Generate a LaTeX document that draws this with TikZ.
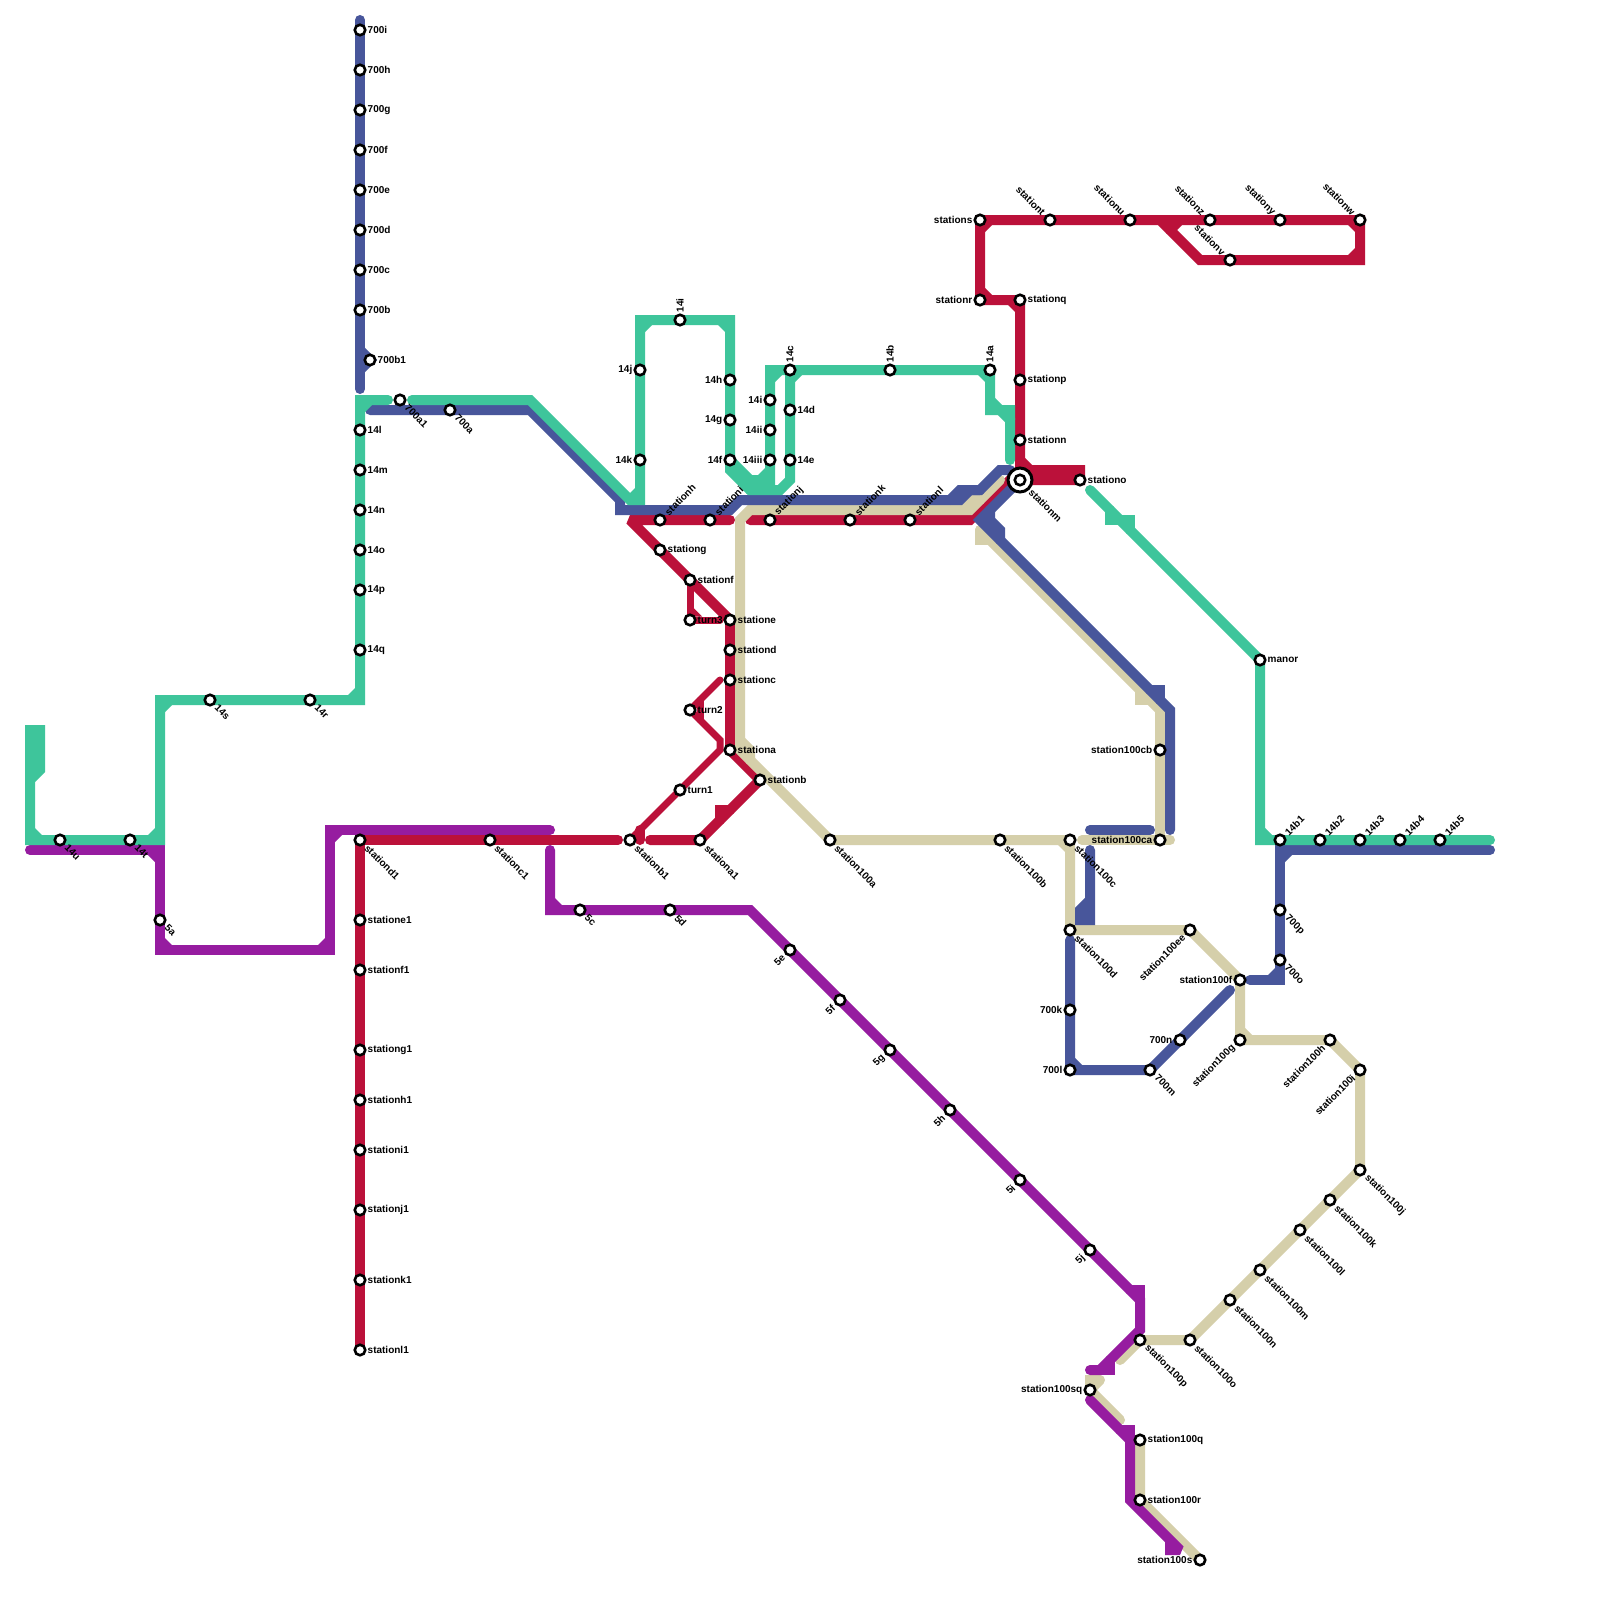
\documentclass[tikz,border=0pt]{standalone}
\usepackage{fontspec}
\setmainfont{Liberation Sans}
\usepackage{xcolor}
\usetikzlibrary{backgrounds}
\definecolor{LineGreen}{RGB}{62,197,155}
\definecolor{LineBlue}{RGB}{72,86,155}
\definecolor{LineRed}{RGB}{187,17,58}
\definecolor{LinePurple}{RGB}{150,28,160}
\definecolor{LineBeige}{RGB}{213,207,170}
\tikzset{
	metro/.style={line width=10pt, line cap=round, line join=miter, miter limit=2},
	thinmetro/.style={metro, line width=7pt},
	station/.style={circle, draw=black, fill=white, line width=2.6pt, inner sep=0pt, minimum size=10.5pt},
	hub/.style={circle, draw=black, fill=white, line width=3pt, inner sep=0pt, minimum size=24pt},
	lbl/.style={inner sep=0pt, font=\fontsize{10pt}{12pt}\selectfont\bfseries},
	lblE/.style={lbl, anchor=west, xshift=7.5pt},
	lblW/.style={lbl, anchor=east, xshift=-7.5pt},
	lblN/.style={lbl, rotate=90, anchor=west, xshift=7.5pt},
	lblSE/.style={lbl, rotate=-45, anchor=west, xshift=9pt},
	lblNE/.style={lbl, rotate=45, anchor=west, xshift=9pt},
	lblSW/.style={lbl, rotate=45, anchor=east, xshift=-9pt},
	lblNW/.style={lbl, rotate=-45, anchor=east, xshift=-9pt}
}
% one look for a whole list of stations
\newcommand{\stationlist}[2]{%
	\foreach \n/\x/\y in {#2} {
		\node[station] (\n) at (\x,\y) {};
		\node[#1] (\n-text) at (\n.center) {\n};
	}
}
% small cut on the inside of a square corner
\newcommand{\elbows}[2]{%
	\foreach \cx/\cy/\dx/\dy in {#2} {
		\fill[#1] ({\cx+0.5*\dx},{\cy+0.5*\dy}) -- ++({0.7*\dx},0) -- ++({-0.7*\dx},{0.7*\dy}) -- cycle;
	}
}
\begin{document}
\begin{tikzpicture}[x=10pt, y=-10pt]
	\useasboundingbox (0,0) rectangle (160,160);

	% stations
	\stationlist{lblE}{700i/36/3, 700h/36/7, 700g/36/11, 700f/36/15, 700e/36/19, 700d/36/23, 700c/36/27, 700b/36/31, 700b1/37/36,
		14l/36/43, 14m/36/47, 14n/36/51, 14o/36/55, 14p/36/59, 14q/36/65, 14d/79/41, 14e/79/46,
		statione1/36/92, stationf1/36/97, stationg1/36/105, stationh1/36/110, stationi1/36/115, stationj1/36/121, stationk1/36/128, stationl1/36/135,
		stationg/66/55, stationf/69/58, turn3/69/62, statione/73/62, stationd/73/65, stationc/73/68, turn2/69/71, stationa/73/75, stationb/76/78, turn1/68/79,
		stationq/102/30, stationp/102/38, stationn/102/44, stationo/108/48,
		station100q/114/144, station100r/114/150, manor/126/66}
	\stationlist{lblW}{14j/64/37, 14k/64/46, 14h/73/38, 14g/73/42, 14f/73/46, 14i/77/40, 14ii/77/43, 14iii/77/46,
		stations/98/22, stationr/98/30, station100cb/116/75, station100ca/116/84, 700k/107/101, 700l/107/107, 700n/118/104,
		station100f/124/98, station100sq/109/139, station100s/120/156}
	\stationlist{lblN}{14c/79/37, 14b/89/37, 14a/99/37}
	\stationlist{lblNE}{stationh/66/52, stationi/71/52, stationj/77/52, stationk/85/52, stationl/91/52,
		14b1/128/84, 14b2/132/84, 14b3/136/84, 14b4/140/84, 14b5/144/84}
	\stationlist{lblSE}{14u/6/84, 14t/13/84, 14s/21/70, 14r/31/70, 5a/16/92, 5c/58/91, 5d/67/91, 700a1/40/40, 700a/45/41,
		stationd1/36/84, stationc1/49/84, stationb1/63/84, stationa1/70/84,
		station100a/83/84, station100b/100/84, station100c/107/84, station100d/107/93, 700m/115/107, 700p/128/91, 700o/128/96,
		station100j/136/117, station100k/133/120, station100l/130/123, station100m/126/127, station100n/123/130, station100o/119/134, station100p/114/134}
	\stationlist{lblSW}{5e/79/95, 5f/84/100, 5g/89/105, 5h/95/111, 5i/102/118, 5j/109/125,
		station100ee/119/93, station100g/124/104, station100h/133/104, station100i/136/107}
	\stationlist{lblNW}{stationt/105/22, stationu/113/22, stationz/121/22, stationy/128/22, stationw/136/22, stationv/123/26}

	\node[station] (14itop) at (68,32) {};
	\node[lblN] (14itop-text) at (14itop.center) {14i};
	\node[hub] (stationm) at (102,48) {};
	\node[station] (stationm-core) at (stationm.center) {};
	\node[lbl, rotate=-45, anchor=west, xshift=15pt] (stationm-text) at (stationm.center) {stationm};

	\begin{scope}[on background layer]
		\fill[white] (0,0) rectangle (160,160);

		% red
		\draw[metro, LineRed] (stationl1.center) -- (stationd1.center) -- (61.8,84);
		\draw[metro, LineRed] (65,84) -- (stationa1.center) -- (stationb.center) -- (stationa.center) -- (statione.center) -- (stationg.center) -- (63,52) -- (stationh.center) -- (stationi.center) -- (73,52);
		\draw[metro, LineRed] (75,52) -- (stationj.center) -- (stationk.center) -- (stationl.center) -- (97,52) -- (101,48) -- (stationm.center);
		\draw[metro, LineRed] (stationm.center) -- (stationo.center) -- (108,47) -- (102,47) -- (stationn.center) -- (stationq.center) -- (stationr.center) -- (stations.center) -- (stationw.center) -- (136,26) -- (stationv.center) -- (120,26) -- (116,22);
		\draw[thinmetro, LineRed] (stationb1.center) -- (turn1.center) -- (72,75) -- (72,74) -- (turn2.center) -- (72,68);
		\draw[thinmetro, LineRed] (stationf.center) -- (turn3.center) -- (72,62);
		\draw[thinmetro, LineRed] (70,70) -- (70,72);
		\draw[metro, LineRed] (64,83) -- (64,84);
		\draw[metro, LineRed] (72,82) -- (72,81) -- (73,81);
		\draw[metro, LineRed] (118,22) -- (117,23);
		\elbows{LineRed}{102/47/1/-1, 102/30/-1/1, 98/30/1/-1, 98/22/1/1, 136/22/-1/1, 136/26/-1/-1}
		\fill[LineRed] (69.35,60.8) -- (70.2,61.65) -- (69.35,61.65) -- cycle;

		% beige
		\draw[metro, LineBeige] (100,48) -- (97,51) -- (75,51) -- (74,52) -- (74,75) -- (station100a.center) -- (station100c.center) -- (station100d.center) -- (station100ee.center) -- (station100f.center) -- (station100g.center) -- (station100h.center) -- (station100i.center) -- (station100j.center) -- (station100o.center) -- (station100p.center) -- (112,136);
		\draw[metro, LineBeige] (96,51) -- (97,50) -- (98,50);
		\draw[metro, LineBeige] (98,53) -- (116,71) -- (station100ca.center);
		\draw[metro, LineBeige] (108.2,84) -- (117,84);
		\draw[metro, LineBeige] (station100q.center) -- (station100r.center) -- (station100s.center);
		\draw[metro, LineBeige] (74,74) -- (75,75) -- (75,76);
		\draw[metro, LineBeige] (98,53) -- (98,54) -- (99,54);
		\draw[metro, LineBeige] (114,69) -- (114,70) -- (115,70);
		\draw[metro, LineBeige] (110,138) -- (109,138) -- (station100sq.center) -- (110,138);
		\draw[metro, LineBeige] (station100sq.center) -- (112,142);
		\elbows{LineBeige}{107/84/-1/1, 124/104/1/-1}

		% purple
		\draw[metro, LinePurple] (3,85) -- (16,85) -- (5a.center) -- (16,95) -- (33,95) -- (33,83) -- (55,83);
		\draw[metro, LinePurple] (55,85) -- (55,91) -- (5d.center) -- (75,91) -- (5j.center) -- (114,130) -- (114,133) -- (110,137) -- (109,137);
		\draw[metro, LinePurple] (109,140) -- (113,144) -- (113,150) -- (118,155) -- (117,155) -- (117,154);
		\draw[metro, LinePurple] (113,129) -- (114,129) -- (114,130);
		\draw[metro, LinePurple] (111,136) -- (111,137) -- (110,137);
		\draw[metro, LinePurple] (112,143) -- (113,143) -- (113,144);
		\elbows{LinePurple}{16/85/-1/1, 16/95/1/-1, 33/95/-1/-1, 33/83/1/1, 55/91/1/-1}

		% blue
		\draw[metro, LineBlue] (36,2) -- (36,38.9);
		\draw[metro, LineBlue] (36,35) -- (700b1.center) -- (36,37);
		\draw[metro, LineBlue] (37,41) -- (53,41) -- (62,50) -- (62,51) -- (73,51) -- (74,50) -- (96,50) -- (97,49) -- (98,49) -- (100,47) -- (101,47);
		\draw[metro, LineBlue] (95,50) -- (96,49) -- (98,49);
		\draw[metro, LineBlue] (stationm.center) -- (98,52) -- (117,71) -- (117,83);
		\draw[metro, LineBlue] (99,51) -- (99,52) -- (100,53) -- (100,54);
		\draw[metro, LineBlue] (115,69) -- (116,69) -- (116,70);
		\draw[metro, LineBlue] (109,83) -- (115,83);
		\draw[metro, LineBlue] (109,85) -- (109,92) -- (108,92) -- (108,91) -- (109,90);
		\draw[metro, LineBlue] (107,94) -- (700l.center) -- (700m.center) -- (123,99);
		\draw[metro, LineBlue] (125,98) -- (128,98) -- (128,85) -- (149,85);
		\elbows{LineBlue}{128/98/-1/-1, 128/85/1/1, 107/107/1/-1}

		% green
		\draw[metro, LineGreen] (3,78) -- (3,73) -- (4,73) -- (4,77) -- (3,78) -- (3,84) -- (16,84) -- (16,70) -- (36,70) -- (36,40) -- (38.8,40);
		\draw[metro, LineGreen] (41.2,40) -- (53,40) -- (63,50) -- (64,50) -- (64,32) -- (73,32) -- (73,47) -- (75,49) -- (78,49) -- (79,48) -- (14c.center) -- (14a.center) -- (99,41) -- (100,41) -- (101,42) -- (101,46);
		\draw[metro, LineGreen] (99,40) -- (100,41) -- (101,41) -- (101,42);
		\draw[metro, LineGreen] (14f.center) -- (75,48) -- (77,48) -- (77,37) -- (14c.center);
		\draw[metro, LineGreen] (75,48) -- (75,49);
		\draw[metro, LineGreen] (109,49) -- (manor.center) -- (126,84) -- (149,84);
		\draw[metro, LineGreen] (111,51) -- (111,52) -- (113,52) -- (113,53);
		\elbows{LineGreen}{3/84/1/-1, 16/84/-1/-1, 16/70/1/1, 36/70/-1/-1, 36/40/1/1, 64/32/1/1, 73/32/-1/1, 64/50/-1/-1, 79/37/1/1, 77/37/1/1, 77/48/-1/-1, 99/37/-1/1, 126/84/1/-1}
	\end{scope}
\end{tikzpicture}
\end{document}
